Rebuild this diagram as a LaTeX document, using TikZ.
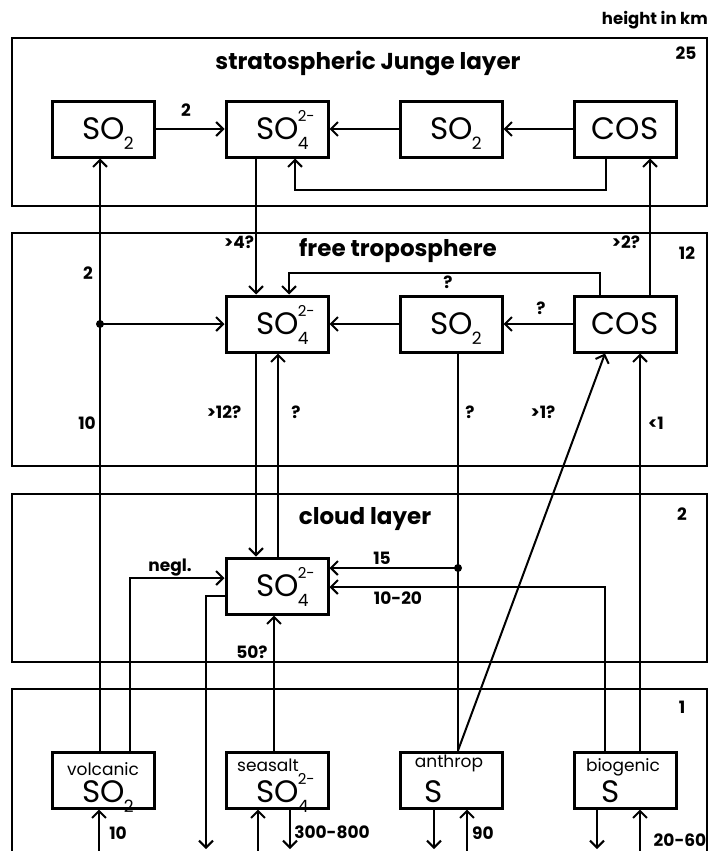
\documentclass[tikz,border=0pt]{standalone}
\usepackage{fontspec}
\setmainfont{Poppins}
\usetikzlibrary{arrows.meta}
\newcommand{\bigfs}{\fontsize{31}{31}\selectfont}
\newcommand{\smallfs}{\fontsize{17}{17}\selectfont}
\newcommand{\lblfs}{\fontsize{17}{17}\selectfont\bfseries}
\newcommand{\hkmfs}{\fontsize{16.5}{16.5}\selectfont\bfseries}
\newcommand{\ttlfs}{\fontsize{23}{23}\selectfont\bfseries}
\newcommand{\subfs}{\fontsize{17}{17}\selectfont}
\newcommand{\supfs}{\fontsize{15}{15}\selectfont}
\newcommand{\SOtwo}{SO\kern-1pt\rlap{\smash{\raisebox{-10pt}{\subfs 2}}}}
\newcommand{\SOfour}{SO\kern-1pt\rlap{\smash{\raisebox{18pt}{\supfs 2-}}}\rlap{\smash{\raisebox{-10pt}{\subfs 4}}}}
\begin{document}
\begin{tikzpicture}[x=1pt,y=-1pt,
  layer/.style={draw, line width=2pt},
  sbox/.style={draw, line width=3pt, minimum width=102pt, minimum height=56pt, inner sep=0pt, font=\bigfs},
  stxt/.style={inner sep=0pt, font=\smallfs},
  btxt/.style={inner sep=0pt, font=\bigfs},
  conn/.style={line width=2pt, -{Straight Barb[length=7pt,width=14pt,line width=2pt]}},
  plain/.style={line width=2pt},
  lbl/.style={inner sep=0pt, font=\lblfs},
  ttl/.style={inner sep=0pt, font=\ttlfs}]
\useasboundingbox (0,0) rectangle (710,851);

% layers
\draw[layer] (12,38) rectangle (707,206);
\draw[layer] (12,233) rectangle (707,466);
\draw[layer] (12,494) rectangle (707,662);
\draw[layer] (12,870) -- (12,689) -- (707,689) -- (707,870);

% x positions
\coordinate (x100) at (100,0);
\coordinate (x130) at (130,0);
\coordinate (x256) at (256,0);
\coordinate (x274) at (274,0);
\coordinate (x278) at (278,0);
\coordinate (x289) at (289,0);
\coordinate (x295) at (295,0);
\coordinate (x458) at (458,0);
\coordinate (x600) at (600,0);
\coordinate (x605) at (605,0);
\coordinate (x606) at (606,0);
\coordinate (x640) at (640,0);
\coordinate (x650) at (650,0);
% bottom free ends
\coordinate (b99) at (99,853);
\coordinate (b206) at (206,849);
\coordinate (b258) at (258,853);
\coordinate (b290) at (290,849);
\coordinate (b434) at (434,849);
\coordinate (b467) at (467,853);
\coordinate (b597) at (597,849);
\coordinate (b640) at (640,853);
% junction dots
\coordinate (dot1) at (100,324);
\coordinate (dot2) at (458,568);

% titles and heights
\node[inner sep=0pt, font=\hkmfs, anchor=east] (hkm) at (708,20) {height in km};
\node[ttl] (t1) at (368,63) {stratospheric Junge layer};
\node[ttl] (t2) at (398,251) {free troposphere};
\node[ttl] (t3) at (365,519) {cloud layer};
\node[lbl] (h25) at (686,53) {25};
\node[lbl] (h12) at (687,253) {12};
\node[lbl] (h2) at (682,514) {2};
\node[lbl] (h1) at (682,707) {1};

% stratosphere
\node[sbox] (sSO2) at (103,129) {\SOtwo};
\node[sbox] (sSO4) at (277,129) {\SOfour};
\node[sbox] (sSO2b) at (451,129) {\SOtwo};
\node[sbox] (sCOS) at (625,129) {COS};

% free troposphere
\node[sbox] (fSO4) at (277,324) {\SOfour};
\node[sbox] (fSO2) at (451,324) {\SOtwo};
\node[sbox] (fCOS) at (625,324) {COS};

% cloud layer
\node[sbox] (cSO4) at (277,586) {\SOfour};

% surface
\node[sbox] (volc) at (103,780) {};
\node[sbox] (seas) at (277,780) {};
\node[sbox] (anth) at (451,780) {};
\node[sbox] (bio) at (625,780) {};
\node[stxt] (volct) at (103,769) {volcanic};
\node[stxt] (seast) at (268,765) {seasalt};
\node[stxt] (antht) at (449,763) {anthrop};
\node[stxt] (biot) at (623,767) {biogenic};
\node[btxt] (volcs) at (103,792) {\SOtwo};
\node[btxt] (seass) at (277,792) {\SOfour};
\node[btxt] (anths) at (434,792) {S};
\node[btxt] (bios) at (611,792) {S};

% stratosphere connectors
\draw[conn] (sSO2) -- (sSO4);
\draw[conn] (sSO2b) -- (sSO4);
\draw[conn] (sCOS) -- (sSO2b);
\draw[conn] (sCOS.south -| x606) -- ++(0,31) -| (sSO4.south -| x295);
\node[lbl] (l2a) at (186,110) {2};

% vertical links between layers
\draw[conn] (volc.north -| x100) -- (sSO2.south -| x100);
\fill (dot1) circle (4pt);
\draw[conn] (dot1) -- (fSO4);
\draw[conn] (sSO4.south -| x256) -- (fSO4.north -| x256);
\draw[conn] (fCOS.north -| x650) -- (sCOS.south -| x650);
\draw[conn] (fCOS.north -| x600) -- ++(0,-22) -| (fSO4.north -| x289);
\draw[conn] (fCOS) -- (fSO2);
\draw[conn] (fSO2) -- (fSO4);
\draw[conn] (fSO4.south -| x256) -- (cSO4.north -| x256);
\draw[conn] (cSO4.north -| x278) -- (fSO4.south -| x278);
\draw[plain] (anth.north -| x458) -- (fSO2.south -| x458);
\fill (dot2) circle (4pt);
\draw[conn] (dot2) -- (cSO4.east |- dot2);
\draw[conn] (anth.north -| x458) -- (fCOS.south -| x605);
\draw[conn] (bio.north -| x640) -- (fCOS.south -| x640);
\draw[conn] (bio.north -| x605) |- ([yshift=-1pt]cSO4.east);
\draw[conn] (volc.north -| x130) |- ([yshift=8pt]cSO4.west);
\draw[conn] ([yshift=-10pt]cSO4.west) -| (b206);
\draw[conn] (seas.north -| x274) -- (cSO4.south -| x274);

% surface exchange
\draw[conn] (b99) -- (volc.south -| b99);
\draw[conn] (b258) -- (seas.south -| b258);
\draw[conn] (seas.south -| b290) -- (b290);
\draw[conn] (anth.south -| b434) -- (b434);
\draw[conn] (b467) -- (anth.south -| b467);
\draw[conn] (bio.south -| b597) -- (b597);
\draw[conn] (b640) -- (bio.south -| b640);

% labels
\node[lbl] (l4q) at (239,242) {>4?};
\node[lbl] (l2q) at (626,242) {>2?};
\node[lbl] (l2b) at (88,273) {2};
\node[lbl] (lq1) at (448,282) {?};
\node[lbl] (lq2) at (541,308) {?};
\node[lbl] (l10a) at (87,423) {10};
\node[lbl] (l12q) at (224,412) {>12?};
\node[lbl] (lq3) at (296,412) {?};
\node[lbl] (lq4) at (470,412) {?};
\node[lbl] (l1q) at (543,412) {>1?};
\node[lbl] (llt1) at (656,423) {<1};
\node[lbl] (l15) at (382,558) {15};
\node[lbl] (lneg) at (170,568) {negl.};
\node[lbl] (l1020) at (398,598) {10-20};
\node[lbl] (l50) at (252,652) {50?};
\node[lbl] (l10b) at (118,833) {10};
\node[lbl] (l300) at (332,832) {300-800};
\node[lbl] (l90) at (483,833) {90};
\node[lbl] (l2060) at (680,840) {20-60};
\end{tikzpicture}
\end{document}
